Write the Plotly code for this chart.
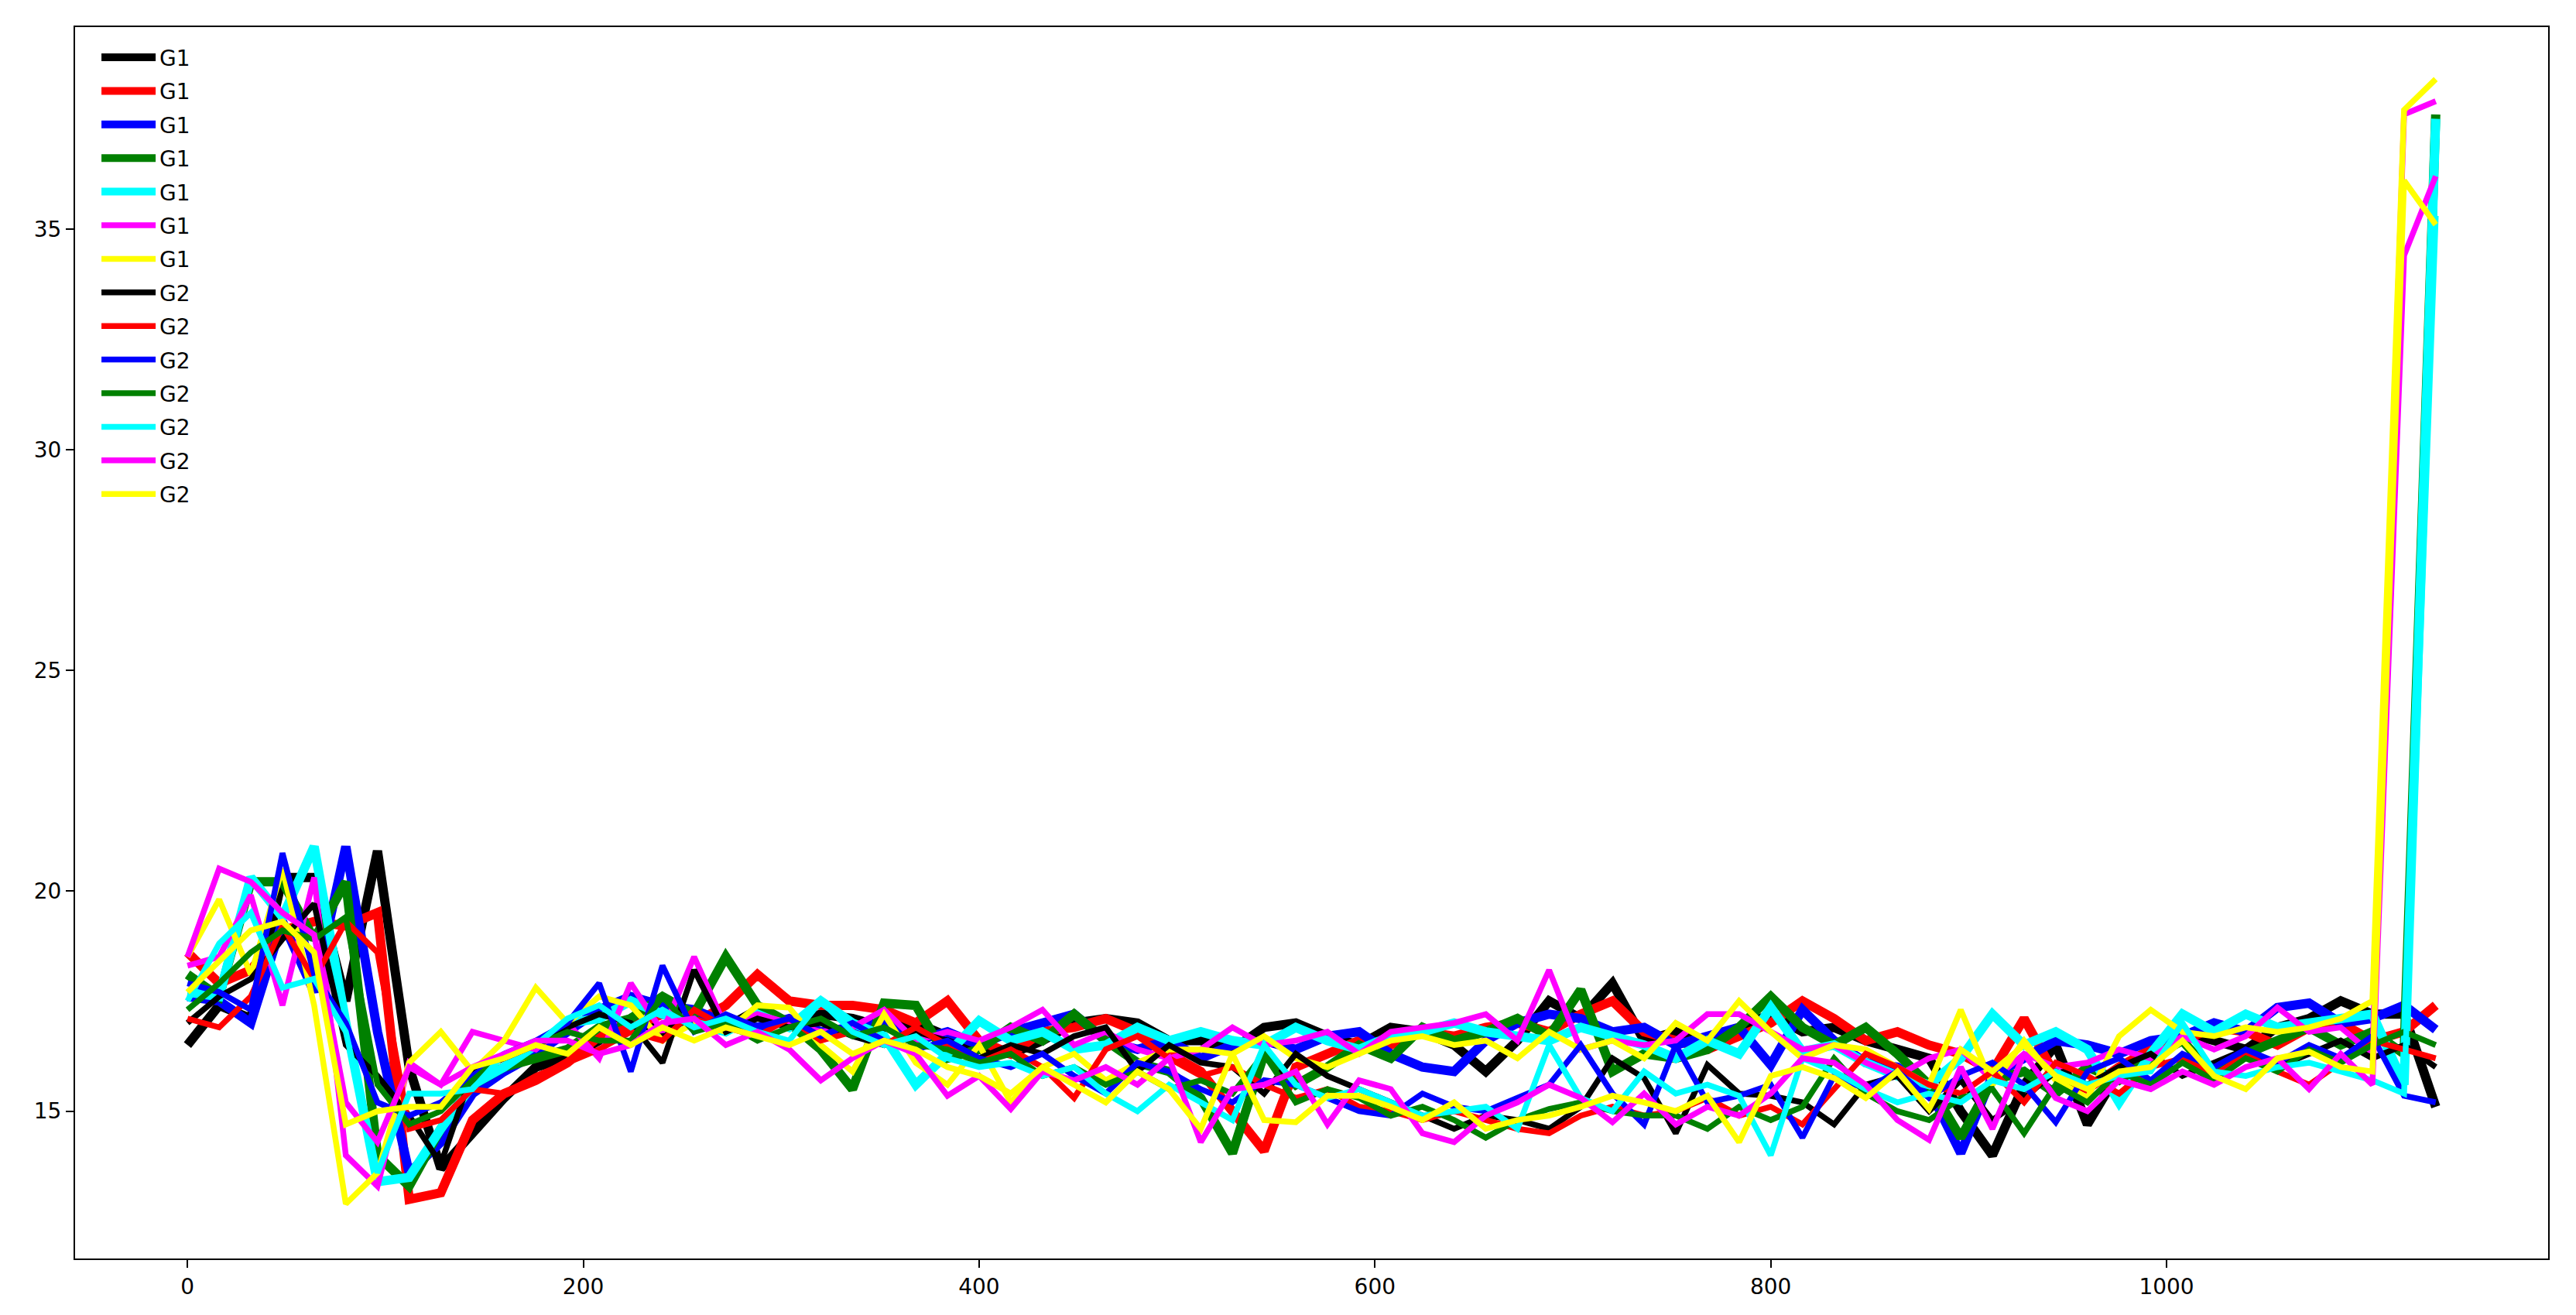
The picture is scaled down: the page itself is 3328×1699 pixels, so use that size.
import plotly.graph_objects as go

# x positions (step 16)
x_values = list(range(0, 1137, 16))

# ---- G1 series ----
black_g1 = [16.5, 17.4, 17.1, 20.3, 20.3, 17.5, 20.9, 16.0,
            13.7, 14.5, 15.3, 16.0, 16.2, 16.6, 17.1, 16.8,
            17.2, 16.9, 17.3, 17.0, 17.2, 17.1, 16.9, 17.0,
            16.7, 16.4, 16.3, 16.6, 17.0, 17.1, 17.0, 16.6,
            16.6, 16.4, 16.9, 17.0, 16.7, 16.5, 16.9, 16.8,
            16.5, 15.9, 16.6, 17.5, 17.1, 17.9, 16.6, 16.8,
            16.5, 16.9, 17.2, 16.8, 16.9, 16.6, 16.4, 16.2,
            15.0, 14.0, 15.6, 16.5, 14.7, 15.9, 16.2, 16.8,
            16.6, 16.4, 16.9, 17.1, 17.5, 17.2, 17.2, 15.1]
red_g1 = [18.6, 17.9, 18.2, 19.1, 19.3, 19.2, 19.5, 13.0,
          13.15, 14.8, 15.4, 15.7, 16.1, 16.7, 16.9, 17.2,
          17.0, 17.4, 18.1, 17.5, 17.4, 17.4, 17.3, 17.0,
          17.5, 16.6, 16.3, 16.8, 16.9, 17.1, 16.8, 16.3,
          15.9, 15.0, 14.1, 16.0, 16.3, 16.6, 16.5, 16.8,
          16.7, 16.9, 17.0, 16.8, 17.2, 17.5, 16.8, 16.6,
          16.4, 16.7, 17.0, 17.5, 17.1, 16.6, 16.8, 16.5,
          16.3, 15.9, 17.1, 15.8, 15.5, 16.0, 16.4, 16.6,
          16.9, 16.8, 16.5, 16.9, 17.0, 16.6, 16.8, 17.4]
blue_g1 = [17.6, 17.5, 17.0, 19.3, 17.7, 21.0, 16.8, 13.6,
           14.3, 15.4, 15.9, 16.3, 16.8, 17.3, 17.6, 17.4,
           17.3, 17.0, 16.9, 17.1, 16.8, 16.9, 17.0, 16.6,
           16.8, 16.5, 16.8, 17.0, 17.2, 16.6, 16.4, 16.6,
           16.2, 16.5, 16.6, 16.4, 16.7, 16.8, 16.3, 16.0,
           15.9, 16.6, 17.0, 17.2, 17.1, 16.8, 16.9, 16.5,
           16.7, 16.9, 16.05, 17.3, 16.6, 16.1, 16.0, 15.5,
           14.05, 15.8, 16.2, 16.6, 16.5, 16.3, 16.6, 16.7,
           17.0, 16.8, 17.35, 17.45, 17.0, 17.1, 17.4, 16.85]
green_g1 = [18.1, 17.6, 20.2, 20.2, 18.9, 20.2, 14.0, 13.3,
            14.6, 15.6, 16.0, 16.2, 16.4, 16.9, 17.1, 17.6,
            17.2, 18.5, 17.4, 17.0, 16.4, 15.5, 17.45, 17.4,
            16.2, 16.4, 16.9, 16.6, 17.2, 16.6, 16.1, 15.9,
            15.3, 14.05, 16.3, 15.6, 16.0, 16.5, 16.2, 16.9,
            16.6, 16.8, 17.1, 16.7, 17.75, 15.9, 16.3, 16.2,
            16.4, 16.9, 17.6, 16.9, 16.5, 16.9, 16.3, 15.6,
            14.4, 15.7, 15.9, 15.4, 16.0, 15.7, 16.2, 16.6,
            15.8, 16.3, 16.6, 16.9, 16.5, 16.8, 16.3, 37.6]
cyan_g1 = [17.7, 17.6, 20.3, 19.4, 21.0, 17.0, 13.4, 13.5,
           14.6, 15.6, 16.0, 16.5, 17.0, 17.1, 17.5, 17.2,
           17.0, 16.8, 17.2, 16.9, 17.5, 17.0, 16.7, 15.6,
           16.3, 17.05, 16.6, 16.8, 16.4, 16.5, 16.9, 16.6,
           16.8, 16.6, 16.5, 16.9, 16.6, 16.4, 16.7, 16.8,
           17.0, 16.8, 16.7, 16.6, 16.9, 16.7, 16.5, 16.2,
           16.6, 16.3, 17.35, 16.35, 16.5, 16.1, 15.8, 15.6,
           16.2, 17.2, 16.5, 16.8, 16.4, 15.2, 16.3, 17.2,
           16.8, 17.2, 16.9, 17.0, 17.1, 17.2, 15.6, 37.5]
magenta_g1 = [18.3, 18.5, 19.9, 17.4, 20.3, 14.0, 13.3, 16.1,
              15.6, 16.8, 16.6, 16.4, 17.0, 16.2, 17.9, 16.8,
              18.5, 16.9, 17.2, 17.0, 16.8, 16.9, 17.3, 16.6,
              16.8, 16.6, 16.9, 17.3, 16.5, 16.8, 16.4, 16.2,
              16.4, 16.9, 16.5, 16.6, 16.8, 16.3, 16.8, 16.9,
              17.0, 17.2, 16.6, 18.2, 16.4, 16.6, 16.5, 16.6,
              17.2, 17.2, 16.8, 16.4, 16.5, 16.1, 15.8, 16.2,
              16.4, 15.7, 16.3, 16.0, 16.1, 16.4, 16.2, 16.7,
              16.4, 16.7, 17.35, 16.8, 16.9, 16.3, 37.6, 37.9]
yellow_g1 = [18.5, 19.8, 18.1, 20.5, 17.4, 12.9, 13.6, 16.1,
             16.8, 15.9, 16.6, 17.8, 17.0, 17.6, 17.4, 16.6,
             17.0, 16.8, 17.4, 17.35, 16.5, 15.9, 17.2, 16.1,
             15.6, 16.5, 15.2, 16.0, 16.3, 15.7, 16.1, 16.4,
             16.4, 16.3, 16.7, 16.2, 16.0, 16.3, 16.6, 16.7,
             16.5, 16.6, 16.2, 16.8, 16.4, 16.6, 16.2, 17.0,
             16.6, 17.5, 16.8, 16.2, 16.5, 16.4, 16.0, 15.6,
             17.3, 15.6, 16.6, 15.7, 15.3, 16.7, 17.3, 16.8,
             16.7, 16.9, 16.8, 16.9, 17.1, 17.5, 37.7, 38.4]

# ---- G2 series ----
black_g2 = [17.0, 17.6, 18.0, 18.9, 19.7, 16.5, 15.8, 14.9,
            13.8, 15.9, 16.2, 16.5, 16.9, 17.2, 17.0, 16.1,
            18.2, 16.8, 17.1, 16.9, 17.0, 16.7, 16.5, 16.8,
            16.6, 16.2, 16.5, 16.3, 16.7, 16.9, 15.9, 16.5,
            16.1, 16.0, 15.4, 16.3, 15.8, 15.5, 15.2, 14.9,
            14.6, 14.9, 14.8, 14.6, 15.1, 16.2, 15.75, 14.5,
            16.05, 15.4, 15.35, 15.2, 14.7, 15.6, 15.8, 15.0,
            15.7, 14.8, 15.3, 15.9, 15.6, 16.0, 16.3, 15.8,
            16.1, 16.4, 16.0, 16.3, 16.6, 16.2, 16.5, 16.0]
red_g2 = [17.1, 16.9, 17.6, 19.2, 18.0, 19.3, 18.6, 14.6,
          14.8, 15.5, 15.4, 15.8, 16.1, 16.4, 16.8, 16.6,
          17.3, 16.9, 16.7, 17.1, 16.6, 16.8, 16.5, 16.9,
          16.5, 16.1, 16.4, 16.0, 15.3, 16.4, 16.7, 16.2,
          15.8, 16.0, 15.6, 15.3, 15.5, 15.1, 15.0, 14.8,
          15.0, 14.8, 14.6, 14.5, 14.9, 15.1, 14.9, 15.0,
          15.3, 14.9, 15.1, 14.7, 15.5, 16.3, 16.0, 15.6,
          15.4, 15.9, 15.2, 16.1, 15.8, 15.4, 16.0, 16.2,
          15.8, 16.3, 15.9, 15.6, 16.1, 16.6, 16.4, 16.2]
blue_g2 = [17.9, 17.7, 17.3, 20.85, 18.1, 17.0, 15.2, 14.9,
           15.2, 15.8, 16.3, 16.6, 17.0, 17.9, 15.9, 18.3,
           16.8, 17.2, 16.9, 17.1, 16.7, 17.0, 16.6, 16.4,
           16.6, 16.2, 16.0, 16.3, 15.8, 15.4, 16.1, 15.9,
           15.5, 15.2, 15.7, 15.6, 15.3, 15.0, 14.9, 15.4,
           15.1, 15.0, 15.3, 15.6, 16.5, 15.4, 14.7, 16.5,
           15.2, 15.35, 15.6, 14.4, 15.8, 15.5, 15.9, 15.3,
           15.8, 16.1, 15.6, 14.75, 15.9, 16.2, 15.7, 16.3,
           16.0, 16.4, 16.1, 16.5, 16.2, 16.7, 15.35, 15.2]
green_g2 = [17.3, 17.9, 18.6, 19.1, 18.9, 19.4, 15.6, 14.7,
            15.0, 15.7, 16.3, 16.5, 16.8, 16.6, 16.6, 17.6,
            16.8, 17.0, 16.6, 16.9, 17.1, 16.7, 16.9, 16.5,
            16.4, 16.1, 16.3, 15.8, 16.0, 15.6, 15.9, 15.5,
            15.7, 15.4, 16.3, 15.2, 15.5, 15.3, 14.9, 15.1,
            14.8, 14.4, 14.8, 15.05, 15.2, 15.0, 14.9, 14.9,
            14.6, 15.1, 14.8, 15.1, 16.2, 15.4, 15.0, 14.8,
            15.3, 15.5, 14.5, 15.6, 15.2, 15.9, 15.6, 16.1,
            15.7, 16.2, 15.9, 16.4, 16.1, 16.5, 16.8, 16.5]
cyan_g2 = [17.5, 18.8, 19.5, 17.8, 18.0, 16.8, 13.6, 15.4,
           15.4, 15.5, 16.3, 16.5, 17.1, 17.4, 16.9, 17.3,
           16.9, 17.1, 16.8, 16.6, 17.5, 16.8, 16.5, 16.7,
           16.2, 16.0, 16.1, 15.8, 16.0, 15.4, 15.0, 15.6,
           15.2, 14.8, 16.5, 15.6, 15.3, 15.5, 15.2, 14.9,
           15.0, 15.1, 14.6, 16.5, 15.3, 15.0, 15.9, 15.4,
           15.6, 15.35, 14.0, 16.2, 15.9, 15.5, 15.2, 15.4,
           15.2, 15.7, 15.5, 15.9, 15.6, 15.8, 15.9, 17.0,
           15.9, 15.8, 16.0, 16.1, 15.9, 15.7, 15.4, 35.3]
magenta_g2 = [18.5, 20.5, 20.2, 19.5, 19.0, 15.2, 14.3, 16.0,
              15.6, 16.0, 16.3, 16.6, 16.6, 16.3, 16.5, 17.0,
              17.1, 16.5, 16.8, 16.4, 15.7, 16.2, 16.6, 16.3,
              15.35, 15.8, 15.05, 15.9, 15.7, 16.0, 15.6, 16.2,
              14.3, 15.5, 15.6, 15.9, 14.7, 15.7, 15.5, 14.5,
              14.3, 14.9, 15.2, 15.6, 15.3, 14.75, 15.4, 14.7,
              15.1, 14.9, 15.4, 16.2, 16.1, 15.6, 14.8, 14.35,
              16.0, 14.6, 16.3, 15.3, 15.0, 15.7, 15.5, 15.9,
              15.6, 16.0, 16.2, 15.5, 16.3, 15.6, 34.4, 36.2]
yellow_g2 = [17.7, 18.4, 19.1, 19.3, 18.6, 14.7, 15.0, 15.1,
             15.1, 16.0, 16.2, 16.5, 16.3, 16.9, 16.5, 16.9,
             16.6, 16.9, 16.7, 16.5, 16.8, 16.3, 16.6, 16.4,
             16.0, 15.8, 15.4, 16.0, 15.6, 15.2, 15.9, 15.5,
             14.6, 16.3, 14.8, 14.75, 15.35, 15.35, 15.1, 14.8,
             15.2, 14.6, 14.8, 14.9, 15.1, 15.35, 15.2, 15.0,
             15.35, 14.3, 15.8, 16.0, 15.75, 15.3, 15.9, 15.05,
             16.4, 15.9, 16.5, 15.8, 15.5, 15.9, 16.0, 16.6,
             15.8, 15.5, 16.2, 16.35, 16.0, 15.9, 36.1, 35.1]

x_tick_values = [0, 200, 400, 600, 800, 1000]
y_tick_values = [15, 20, 25, 30, 35]

THICK, THIN = 12, 7.5
series = [
    ("G1", black_g1, "black", THICK),
    ("G1", red_g1, "red", THICK),
    ("G1", blue_g1, "blue", THICK),
    ("G1", green_g1, "green", THICK),
    ("G1", cyan_g1, "cyan", THICK),
    ("G1", magenta_g1, "magenta", THIN),
    ("G1", yellow_g1, "yellow", THIN),
    ("G2", black_g2, "black", THIN),
    ("G2", red_g2, "red", THIN),
    ("G2", blue_g2, "blue", THIN),
    ("G2", green_g2, "green", THIN),
    ("G2", cyan_g2, "cyan", THIN),
    ("G2", magenta_g2, "magenta", THIN),
    ("G2", yellow_g2, "yellow", THIN),
]

color_map = {"black": "#000000", "red": "#ff0000", "blue": "#0000ff",
             "green": "#008000", "cyan": "#00ffff", "magenta": "#ff00ff",
             "yellow": "#ffff00"}

fig = go.Figure()
for i, (name, vals, col, w) in enumerate(series):
    fig.add_trace(go.Scatter(
        x=x_values, y=vals, mode="lines", name=name,
        line=dict(color=color_map[col], width=w),
        legendgroup=f"grp{i}",
    ))

# page body has an 8px default margin; size the figure to fit inside it
W, H = 3312, 1683
ml, mr, mt, mb = 89, 28, 27, 63
axis_common = dict(
    showline=True, mirror=True, linecolor="black", linewidth=2,
    ticks="outside", ticklen=10, tickwidth=2, tickcolor="black",
    showgrid=False, zeroline=False,
    tickfont=dict(family="DejaVu Sans", size=28, color="black"),
)
fig.update_layout(
    width=W, height=H,
    margin=dict(l=ml, r=mr, t=mt, b=mb, pad=0),
    paper_bgcolor="white", plot_bgcolor="white",
    font=dict(family="DejaVu Sans", size=28, color="black"),
    showlegend=True,
    legend=dict(
        x=0.0091, y=0.991, xanchor="left", yanchor="top",
        bgcolor="rgba(0,0,0,0)", borderwidth=0,
        font=dict(family="DejaVu Sans", size=28, color="black"),
        tracegroupgap=4, itemwidth=70,
    ),
)
fig.update_xaxes(range=[-56.8, 1192.8], tickmode="array", tickvals=x_tick_values,
                 ticktext=[str(v) for v in x_tick_values], **axis_common)
fig.update_yaxes(range=[11.66, 39.58], tickmode="array", tickvals=y_tick_values,
                 ticktext=[str(v) for v in y_tick_values], **axis_common)

fig.write_html("out.html")
